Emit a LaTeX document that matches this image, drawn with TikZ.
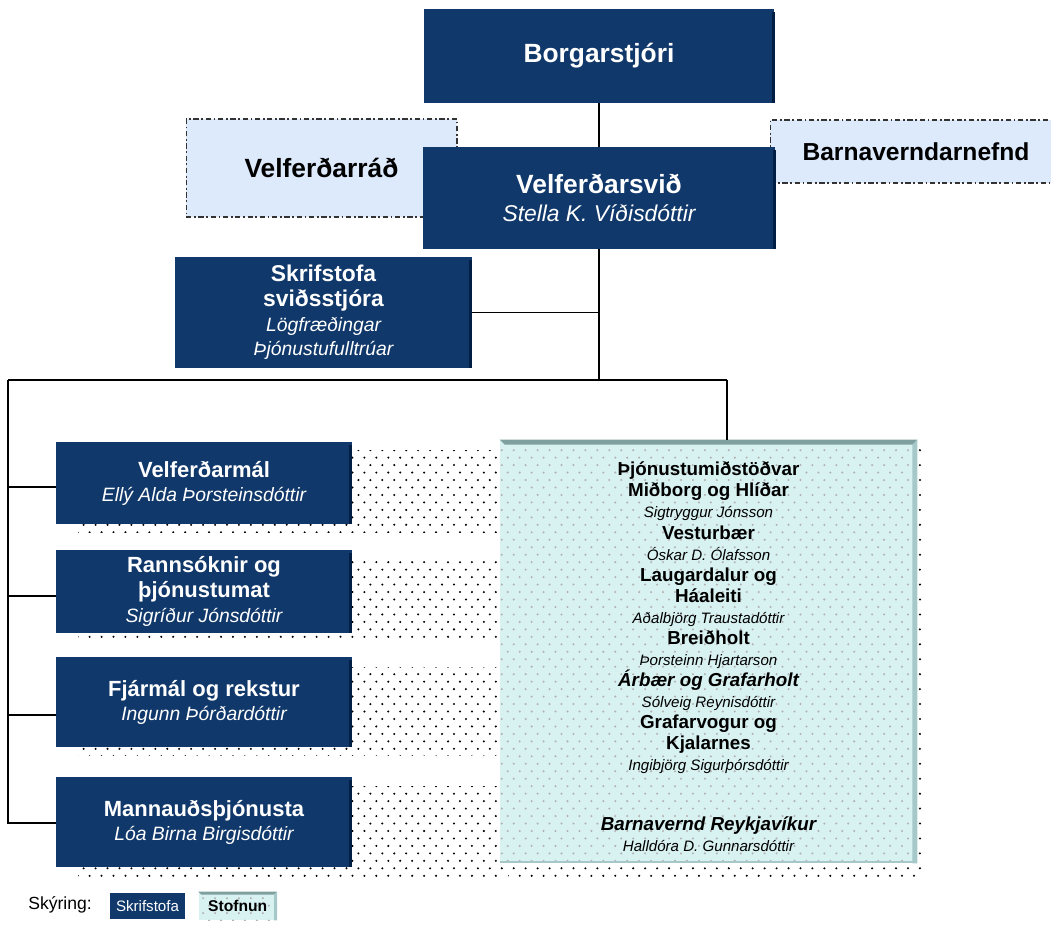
\documentclass[tikz,border=0pt]{standalone}
\usepackage{fontspec}
\setmainfont{Liberation Sans}
\usetikzlibrary{positioning,calc,patterns}

\definecolor{navy}{RGB}{16,56,106}
\definecolor{navydark}{RGB}{0,30,68}
\definecolor{paleblue}{RGB}{220,234,252}
\definecolor{palecyan}{RGB}{216,241,241}
\definecolor{bevtop}{RGB}{128,160,160}
\definecolor{bevside}{RGB}{166,200,200}

\pgfdeclarepatternformonly{sparsedots}{\pgfqpoint{-1pt}{-1pt}}{\pgfqpoint{5pt}{6pt}}{\pgfqpoint{6.8pt}{8.5pt}}{%
  \pgfpathcircle{\pgfqpoint{0pt}{0pt}}{0.65pt}%
  \pgfpathcircle{\pgfqpoint{3.4pt}{4.25pt}}{0.65pt}%
  \pgfusepath{fill}}

\newcommand{\topname}[1]{{\fontsize{13}{16.4}\selectfont\mdseries\itshape #1}}
\newcommand{\midname}[1]{{\fontsize{11}{14}\selectfont\mdseries\itshape #1}}
\newcommand{\stname}[1]{{\fontsize{8.6}{12}\selectfont\mdseries\itshape #1}}

\tikzstyle{office} = [rectangle, fill=navy, text=white, align=center, inner sep=0pt]
\tikzstyle{council} = [rectangle, draw=black!80, line width=0.6pt, dash pattern=on 3pt off 1.5pt on 1pt off 1.5pt, fill=paleblue, align=center, inner sep=0pt, font=\bfseries]
\tikzstyle{inst} = [rectangle, fill=palecyan, postaction={pattern=sparsedots, pattern color=black!30}, inner sep=0pt]
\tikzstyle{sttext} = [align=center, inner sep=0pt, font=\fontsize{10.7}{12}\selectfont\bfseries]
\tikzstyle{shadowdots} = [pattern=sparsedots, pattern color=black]
\tikzstyle{line} = [draw, line width=0.6pt]

\begin{document}
\begin{tikzpicture}[x=0.02cm, y=-0.02cm]
    \useasboundingbox (0,0) rectangle (1051,943);
    % dotted shadows behind the boxes
    \path[shadowdots] (78,450) rectangle (505,532);
    \path[shadowdots] (78,558) rectangle (505,641);
    \path[shadowdots] (78,667) rectangle (505,755);
    \path[shadowdots] (78,786) rectangle (505,877);
    \path[shadowdots] (508,448) rectangle (921,880);

    \node [council, minimum width=5.42cm, minimum height=1.96cm, font=\fontsize{15}{18}\selectfont\bfseries] (rad) at (321.5,168) {Velferðarráð};
    \node [council, minimum width=5.84cm, minimum height=1.26cm, font=\fontsize{14}{17}\selectfont\bfseries] (bvn) at (916,151.5) {Barnaverndarnefnd};
    \node [office, minimum width=7.02cm, minimum height=1.88cm, font=\fontsize{15}{18}\selectfont\bfseries] (borg) at (599,56) {Borgarstjóri};
    \node [office, minimum width=7.06cm, minimum height=2.04cm, font=\fontsize{15}{16.4}\selectfont\bfseries] (svid) at (599,198) {Velferðarsvið\\\topname{Stella K. Víðisdóttir}};
    \node [office, minimum width=5.94cm, minimum height=2.22cm, font=\fontsize{13}{14}\selectfont\bfseries] (skr) at (323.5,312.5) {Skrifstofa\\sviðsstjóra\\\midname{Lögfræðingar}\\\midname{Þjónustufulltrúar}};

    \node [office, minimum width=5.92cm, minimum height=1.64cm, font=\fontsize{12.5}{13.6}\selectfont\bfseries] (vm) at (204,483) {Velferðarmál\\\midname{Ellý Alda Þorsteinsdóttir}};
    \node [office, minimum width=5.92cm, minimum height=1.66cm, font=\fontsize{12.5}{14}\selectfont\bfseries] (rann) at (204,591.5) {Rannsóknir og\\þjónustumat\\\midname{Sigríður Jónsdóttir}};
    \node [office, minimum width=5.92cm, minimum height=1.80cm, font=\fontsize{12.5}{13.6}\selectfont\bfseries] (fja) at (204,702) {Fjármál og rekstur\\\midname{Ingunn Þórðardóttir}};
    \node [office, minimum width=5.92cm, minimum height=1.80cm, font=\fontsize{12.5}{13.6}\selectfont\bfseries] (mann) at (204,822) {Mannauðsþjónusta\\\midname{Lóa Birna Birgisdóttir}};

    \node [inst, minimum width=8.34cm, minimum height=8.46cm] (st) at (708.5,651.5) {};
    \fill[bevtop] (st.north west) -- (st.north east) -- ($(st.north east)+(-5,5)$) -- ($(st.north west)+(5,5)$) -- cycle;
    \fill[bevside] (st.north east) -- (st.south east) -- ($(st.south east)+(-5,0)$) -- ($(st.north east)+(-5,5)$) -- cycle;
    \fill[bevside] ($(st.south west)+(0,-2)$) rectangle (st.south east);
    \node [sttext] (stlist) at (708.5,618) {Þjónustumiðstöðvar\\Miðborg og Hlíðar\\\stname{Sigtryggur Jónsson}\\Vesturbær\\\stname{Óskar D. Ólafsson}\\Laugardalur og\\Háaleiti\\\stname{Aðalbjörg Traustadóttir}\\Breiðholt\\\stname{Þorsteinn Hjartarson}\\{\itshape Árbær og Grafarholt}\\\stname{Sólveig Reynisdóttir}\\Grafarvogur og\\Kjalarnes\\\stname{Ingibjörg Sigurþórsdóttir}};
    \node [sttext] (bvr) at (708.5,834.5) {{\itshape Barnavernd Reykjavíkur}\\\stname{Halldóra D. Gunnarsdóttir}};

    % bevel edges of the office boxes
    \foreach \n in {borg,svid,skr,vm,rann,fja,mann}
        \fill[navydark] ($(\n.north east)+(-3,3)$) rectangle (\n.south east);

    % connectors
    \coordinate (hub) at (599,380);
    \coordinate (tl) at (8,380);
    \coordinate (tr) at (727,380);
    \path [line] (borg.south) -- (svid.north);
    \path [line] (svid.south) -- (hub);
    \path [line] (skr.east) -- (skr.east -| hub);
    \path [line] (tl) -- (tr);
    \path [line] (tr) -- (tr |- st.north);
    \coordinate (cvm) at ($(vm.west)+(0,4)$);
    \coordinate (crann) at ($(rann.west)+(0,4.5)$);
    \coordinate (cfja) at ($(fja.west)+(0,13)$);
    \coordinate (cmann) at ($(mann.west)+(0,1)$);
    \path [line] (tl) |- (cmann);
    \path [line] (cvm -| tl) -- (cvm);
    \path [line] (crann -| tl) -- (crann);
    \path [line] (cfja -| tl) -- (cfja);

    % legend
    \node [anchor=west, inner sep=0pt, font=\fontsize{10}{12}\selectfont] (skyr) at (28,905) {Skýring:};
    \node [office, minimum width=1.5cm, minimum height=0.52cm, font=\fontsize{8.6}{10}\selectfont] (lskr) at (147.5,906) {Skrifstofa};
    \node [inst, minimum width=1.56cm, minimum height=0.56cm, font=\fontsize{8.9}{10}\selectfont\bfseries, right=0.26cm of lskr] (lsto) {Stofnun};
    \fill[bevtop] (lsto.north west) -- (lsto.north east) -- ($(lsto.north east)+(-3,3)$) -- ($(lsto.north west)+(3,3)$) -- cycle;
    \fill[bevside] (lsto.north east) -- (lsto.south east) -- ($(lsto.south east)+(-3,0)$) -- ($(lsto.north east)+(-3,3)$) -- cycle;
\end{tikzpicture}
\end{document}
